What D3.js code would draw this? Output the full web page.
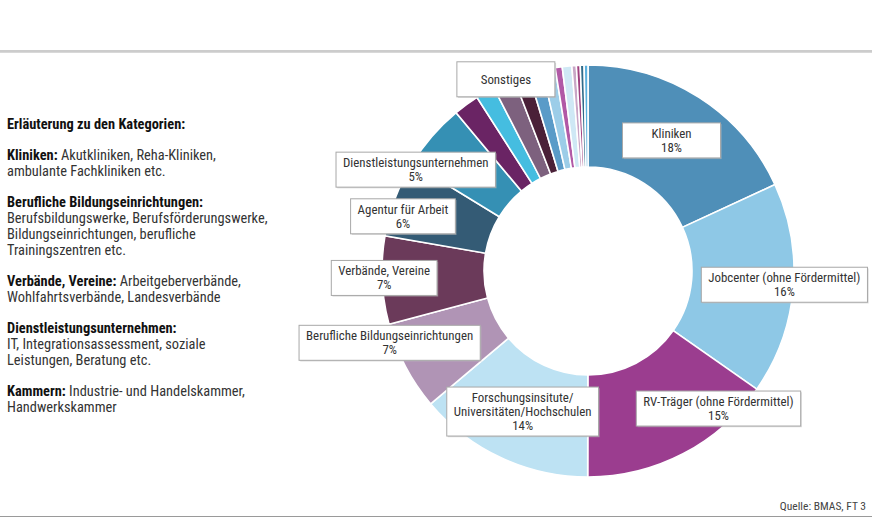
<!DOCTYPE html>
<html>
<head>
<meta charset="utf-8">
<script src="https://cdn.jsdelivr.net/npm/d3@7"></script>
<style>
  body { margin: 0; background: #fff; }
  svg { display: block; font-family: "Liberation Sans Narrow", "Roboto Condensed", "DejaVu Sans Condensed", sans-serif; }
</style>
</head>
<body>
<svg id="chart" width="872" height="517"></svg>
<script>
// Anteile in Prozent, im Uhrzeigersinn ab 12 Uhr
const categories = [
  "Kliniken", "Jobcenter (ohne Fördermittel)", "RV-Träger (ohne Fördermittel)",
  "Forschungsinsitute/|Universitäten/Hochschulen", "Berufliche Bildungseinrichtungen",
  "Verbände, Vereine", "Agentur für Arbeit", "Dienstleistungsunternehmen",
  "s1", "s2", "s3", "s4", "s5", "s6", "s7", "s8", "s9", "s10", "s11", "s12"
];
const values = [18.1, 16.6, 15.3, 13.8, 7.0, 6.9, 6.0, 5.2,
  2.0, 1.5, 1.7, 1.2, 1.1, 1.0, 0.55, 0.75, 0.35, 0.3, 0.3, 0.3];
const percentLabels = ["18%", "16%", "15%", "14%", "7%", "7%", "6%", "5%"];
const colors = ["#4f8fb8", "#8ec8e6", "#9b3d8f", "#bde2f3", "#b094b5", "#6b3a5a", "#345b75", "#3590b4",
  "#6a2464", "#45bde0", "#7d617e", "#4a2038", "#5a9bc8", "#9ccde8", "#b159a6", "#cfe8f5",
  "#c9a6c6", "#a0407f", "#2f6b8a", "#5ab0de"];
const labelShift = [0, 42, 59, 0, -61, -49, -40, -55];
const otherLabel = "Sonstiges";

const legend = [
  [["Erläuterung zu den Kategorien:", true]],
  null,
  [["Kliniken:", true], [" Akutkliniken, Reha-Kliniken,", false]],
  [["ambulante Fachkliniken etc.", false]],
  null,
  [["Berufliche Bildungseinrichtungen:", true]],
  [["Berufsbildungswerke, Berufsförderungswerke,", false]],
  [["Bildungseinrichtungen, berufliche", false]],
  [["Trainingszentren etc.", false]],
  null,
  [["Verbände, Vereine:", true], [" Arbeitgeberverbände,", false]],
  [["Wohlfahrtsverbände, Landesverbände", false]],
  null,
  [["Dienstleistungsunternehmen:", true]],
  [["IT, Integrationsassessment, soziale", false]],
  [["Leistungen, Beratung etc.", false]],
  null,
  [["Kammern:", true], [" Industrie- und Handelskammer,", false]],
  [["Handwerkskammer", false]]
];
const source = "Quelle: BMAS, FT 3";

const svg = d3.select("#chart");
const width = 872, height = 517;

// Linien oben und unten
svg.append("line").attr("x1", 0).attr("x2", width).attr("y1", 51).attr("y2", 51)
  .attr("stroke", "#9a9a9a").attr("stroke-width", 1.2);
svg.append("line").attr("x1", 0).attr("x2", width).attr("y1", 52.5).attr("y2", 52.5)
  .attr("stroke", "#d8d8d8").attr("stroke-width", 1);
svg.append("line").attr("x1", 0).attr("x2", width).attr("y1", 516.5).attr("y2", 516.5)
  .attr("stroke", "#9a9a9a").attr("stroke-width", 1);

svg.append("text").attr("x", 866).attr("y", 510).attr("text-anchor", "end")
  .attr("font-size", 11.5).attr("fill", "#444").text(source);

// Erläuterungstext links: Zeilenabstand 16.2, Leerzeile etwas kleiner
const legendG = svg.append("g").attr("transform", "translate(7,129)");
let ly = 0;
legend.forEach(parts => {
  if (!parts) { ly += 14.5; return; }
  const t = legendG.append("text").attr("y", ly).attr("font-size", 14.4);
  parts.forEach(([s, bold]) => {
    t.append("tspan").attr("font-weight", bold ? "bold" : "normal")
      .attr("fill", bold ? "#111" : "#333").text(s);
  });
  ly += 16.2;
});

// Ringdiagramm
const cx = 588, cy = 271, outerR = 206, innerR = 104;
const g = svg.append("g").attr("transform", `translate(${cx},${cy})`);

const pie = d3.pie().sort(null).value(d => d);
const arcs = pie(values);
const arc = d3.arc().innerRadius(innerR).outerRadius(outerR);

g.selectAll("path.slice")
  .data(arcs)
  .enter()
  .append("path")
  .attr("class", "slice")
  .attr("d", arc)
  .attr("fill", (d, i) => colors[i])
  .attr("stroke", "#fff")
  .attr("stroke-width", 1.6);

// Beschriftungskästen
function drawBox(x, y, lines) {
  const box = g.append("g");
  const texts = lines.map((s, k) => box.append("text")
    .attr("x", x).attr("y", y + (k - (lines.length - 1) / 2) * 14 + 4.5)
    .attr("text-anchor", "middle").attr("font-size", 12.9).attr("fill", "#333").text(s));
  const w = Math.max(98, d3.max(texts, t => t.node().getComputedTextLength()) + 14);
  const h = Math.max(2, lines.length) * 14 + 7;
  box.insert("rect", "text")
    .attr("x", x - w / 2 + 1.2).attr("y", y - h / 2 + 1.2).attr("width", w).attr("height", h)
    .attr("fill", "#bbb").attr("opacity", 0.5);
  box.insert("rect", "text")
    .attr("x", x - w / 2).attr("y", y - h / 2).attr("width", w).attr("height", h)
    .attr("fill", "#fff").attr("stroke", "#a8a8a8").attr("stroke-width", 1);
}

arcs.slice(0, 8).forEach((d, i) => {
  const [x, y] = arc.centroid(d);
  const lines = categories[i].split("|").concat([percentLabels[i]]);
  drawBox(x + labelShift[i], y, lines);
});

// Sonstiges
const rest = arcs.slice(8);
const restArc = { startAngle: rest[0].startAngle, endAngle: rest[rest.length - 1].endAngle };
const edge = d3.arc().innerRadius(outerR).outerRadius(outerR);
const [sx, sy] = edge.centroid(restArc);
drawBox(sx - 12, sy + 2, [otherLabel]);
</script>
</body>
</html>
